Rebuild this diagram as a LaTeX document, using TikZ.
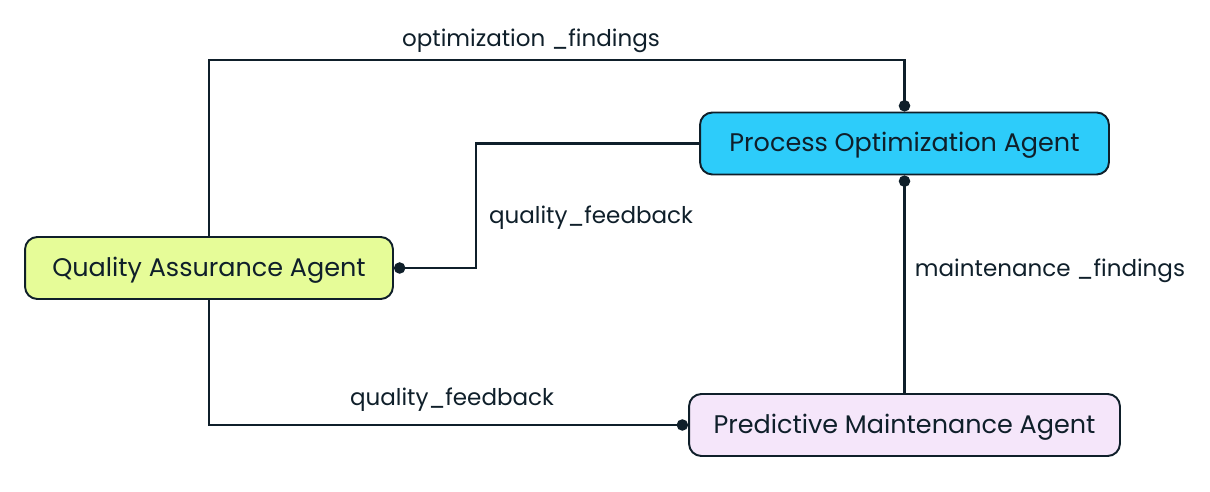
\documentclass[tikz,border=0pt]{standalone}
\usepackage{fontspec}
\setmainfont{Poppins}
\usepackage{tikz}
\usetikzlibrary{positioning,arrows.meta}
\definecolor{ink}{HTML}{0F1F2A}
\definecolor{qafill}{HTML}{E6FC98}
\definecolor{pofill}{HTML}{2DCCFA}
\definecolor{pmfill}{HTML}{F5E6FA}
\tikzset{
	agent/.style={rounded corners=7pt,draw=ink,line width=1.1pt,minimum height=1.24cm,font=\fontsize{14.5}{17}\selectfont,text=ink,text depth=0.3ex},
	link/.style={draw=ink,line width=1.2pt,-{Circle[length=6.5pt]}},
	lbl/.style={font=\fontsize{13.1}{15}\selectfont,text=ink},
}
\begin{document}
\begin{tikzpicture}[x=0.02cm,y=-0.02cm]
		\useasboundingbox (0,0) rectangle (1210,492);
		\node[agent,fill=qafill,minimum width=7.36cm] (qa) at (209,268) {Quality Assurance Agent};
		\node[agent,fill=pofill,minimum width=8.18cm] (po) at (904.5,143.5) {Process Optimization Agent};
		\node[agent,fill=pmfill,minimum width=8.62cm] (pm) at (904.5,425) {Predictive Maintenance Agent};
		
		\node[lbl] (optf) at (531,41) {optimization \_findings};
		\node[lbl] (qaf1) at (591,218) {quality\_feedback};
		\node[lbl] (qaf2) at (452,400) {quality\_feedback};
		\node[lbl] (mntf) at (1050,271) {maintenance \_findings};
		
		\draw[link] (qa.north)--++(0,-176) -| (po.north);
		\draw[link] (po.west)--++(-223,0) |- (qa.east);
		\draw[link] (qa.south) |- (pm.west);
		\draw[link] (pm.north)--(po.south);
	\end{tikzpicture}
\end{document}
